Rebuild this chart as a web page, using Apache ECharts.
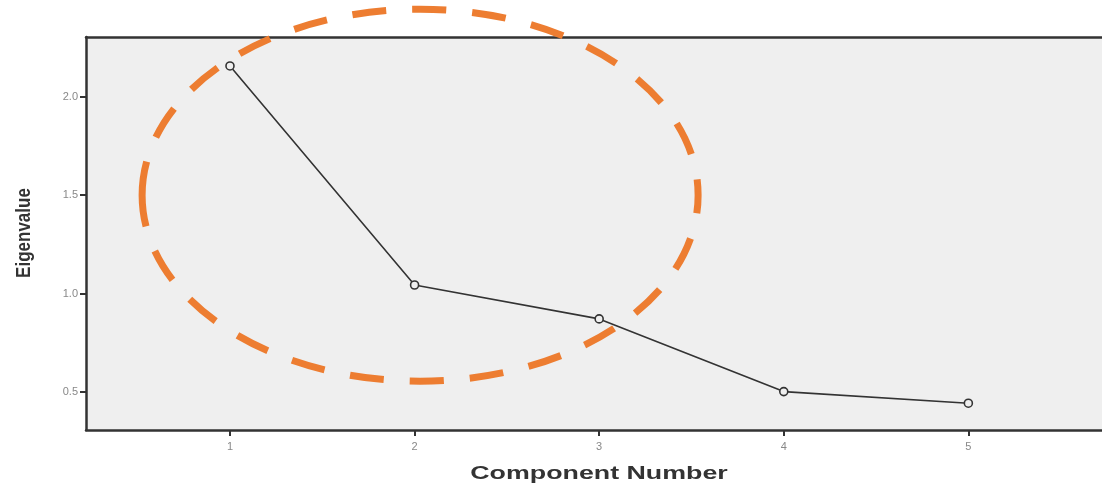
<!DOCTYPE html>
<html><head><meta charset="utf-8">
<script src="https://cdn.jsdelivr.net/npm/echarts@6/dist/echarts.min.js"></script>
<style>html,body{margin:0;padding:0;background:#fff}#c{width:1102px;height:484px}</style>
</head><body><div id="c"></div>
<script>
const components = [1, 2, 3, 4, 5];
const eigenvalues = [2.156, 1.044, 0.872, 0.503, 0.444];
const xTicks = [1, 2, 3, 4, 5];
const yTicks = [0.5, 1.0, 1.5, 2.0];
const xTitle = 'Component Number';
const yTitle = 'Eigenvalue';

const chart = echarts.init(document.getElementById('c'));
const option = {
  animation: false,
  grid: { left: 86, right: 0, top: 37, bottom: 54, show: true, backgroundColor: '#efefef', borderWidth: 0 },
  xAxis: [{
    type: 'value', min: 0.22, max: 5.724,
    axisLine: { show: true, lineStyle: { color: '#333', width: 2.5 } },
    axisTick: { show: true, length: 6, customValues: xTicks, lineStyle: { color: '#333', width: 2 } },
    axisLabel: { customValues: xTicks, color: '#888', fontSize: 11, margin: 11, fontFamily: 'Liberation Sans' },
    splitLine: { show: false }
  }, {
    type: 'value', position: 'top', min: 0.22, max: 5.724,
    axisLine: { show: true, lineStyle: { color: '#333', width: 2.5 } },
    axisTick: { show: false }, axisLabel: { show: false }, splitLine: { show: false }
  }],
  yAxis: {
    type: 'value', min: 0.308, max: 2.303,
    axisLine: { show: true, lineStyle: { color: '#333', width: 2.5 } },
    axisTick: { show: true, length: 6, customValues: yTicks, lineStyle: { color: '#333', width: 2 } },
    axisLabel: { customValues: yTicks, color: '#888', fontSize: 11, margin: 8, fontFamily: 'Liberation Sans', formatter: v => v.toFixed(1) },
    splitLine: { show: false }
  },
  series: [{
    type: 'line',
    data: components.map((c, i) => [c, eigenvalues[i]]),
    symbol: 'circle', symbolSize: 8, showSymbol: true,
    lineStyle: { color: '#333', width: 1.6 },
    itemStyle: { color: '#efefef', borderColor: '#333', borderWidth: 1.6 }
  }]
};
chart.setOption(option);

// Orange dashed annotation ellipse, placed in data coordinates
const center = chart.convertToPixel({ gridIndex: 0 }, [2.03, 1.50]);
const edge = chart.convertToPixel({ gridIndex: 0 }, [2.03 + 1.506, 1.50 + 0.944]);
chart.setOption({
  graphic: [{
    type: 'ellipse', z: 100,
    shape: { cx: center[0], cy: center[1], rx: Math.abs(edge[0] - center[0]), ry: Math.abs(center[1] - edge[1]) },
    style: { fill: 'none', stroke: '#ed7d31', lineWidth: 7, lineDash: [34, 26] }
  }, {
    type: 'text', x: 599, y: 474, scaleX: 1.41,
    style: { text: xTitle, x: 0, y: 0, align: 'center', verticalAlign: 'middle', fill: '#333', font: 'bold 19px "Liberation Sans"' }
  }, {
    type: 'text', x: 24, y: 233, rotation: Math.PI / 2, scaleX: 0.85,
    style: { text: yTitle, x: 0, y: 0, align: 'center', verticalAlign: 'middle', fill: '#333', font: 'bold 20px "Liberation Sans"' }
  }]
});
</script></body></html>
